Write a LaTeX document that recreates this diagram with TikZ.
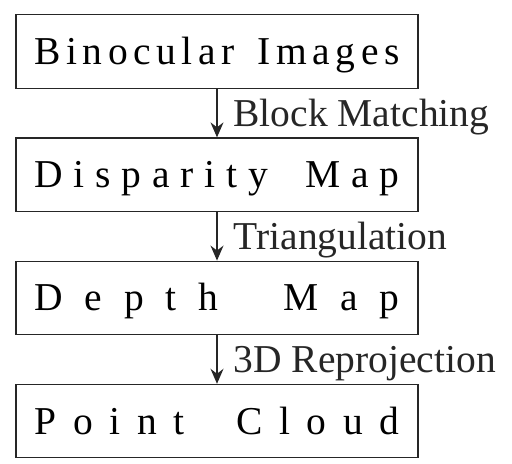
\documentclass[tikz,border=0pt]{standalone}
\usepackage{fontspec}
\setmainfont{Liberation Serif}
\usetikzlibrary{arrows.meta,positioning}
\newcommand{\wordgap}{\hspace{0pt plus 1.25fill}\ \hspace{0pt plus 1.25fill}}

\begin{document}
\begin{tikzpicture}[
      node distance=24.25pt,
      stage/.style={draw=black!85,line width=0.6pt,minimum width=201pt,minimum height=36.75pt,
        inner sep=0pt,text height=13pt,text depth=0pt,font=\fontsize{19.75}{23}\selectfont},
      flow/.style={-{Stealth[length=7.5pt,width=6.5pt,inset=2.5pt]},line width=0.6pt,black!85},
      step label/.style={right,inner sep=0pt,xshift=8pt,text height=13pt,text depth=0pt,
        font=\fontsize{19.75}{23}\selectfont}
    ]
      \useasboundingbox (0,0) rectangle (256pt,-231.5pt);
      \node[stage] (binocular) at (108.5pt,-25.75pt)
        {\makebox[182.5pt][s]{B\hfill i\hfill n\hfill o\hfill c\hfill u\hfill l\hfill a\hfill r\wordgap I\hfill m\hfill a\hfill g\hfill e\hfill s}};
      \node[stage,below=of binocular] (disparity)
        {\makebox[182.5pt][s]{D\hfill i\hfill s\hfill p\hfill a\hfill r\hfill i\hfill t\hfill y\wordgap M\hfill a\hfill p}};
      \node[stage,below=of disparity] (depth)
        {\makebox[182.5pt][s]{D\hfill e\hfill p\hfill t\hfill h\wordgap M\hfill a\hfill p}};
      \node[stage,below=of depth] (cloud)
        {\makebox[182.5pt][s]{P\hfill o\hfill i\hfill n\hfill t\wordgap C\hfill l\hfill o\hfill u\hfill d}};
      \draw[flow] (binocular) -- node[step label] (matching) {Block Matching} (disparity);
      \draw[flow] (disparity) -- node[step label] (triangulation) {Triangulation} (depth);
      \draw[flow] (depth) -- node[step label] (reprojection) {3D Reprojection} (cloud);
    \end{tikzpicture}
\end{document}
